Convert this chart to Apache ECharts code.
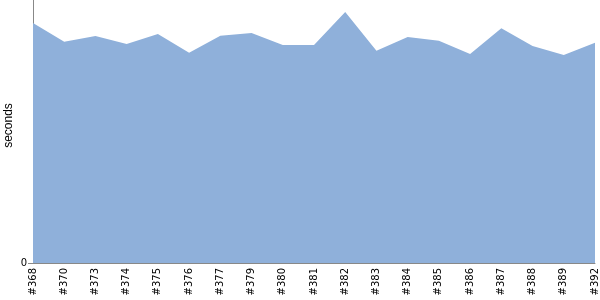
<!DOCTYPE html>
<html>
<head>
<meta charset="utf-8">
<script src="https://cdn.jsdelivr.net/npm/echarts@6/dist/echarts.min.js"></script>
<style>
  html, body { margin: 0; padding: 0; background: #fff; }
  #chart { width: 600px; height: 300px; }
</style>
</head>
<body>
<div id="chart"></div>
<script>
const builds = ['#368', '#370', '#373', '#374', '#375', '#376', '#377', '#379', '#380', '#381',
                '#382', '#383', '#384', '#385', '#386', '#387', '#388', '#389', '#392'];
const durations = [91.3, 84.1, 86.3, 83.3, 87.1, 79.9, 86.4, 87.5, 82.9, 82.9,
                   95.4, 80.7, 85.9, 84.5, 79.5, 89.3, 82.5, 79.1, 83.7];
const yTicks = [0];
const yMax = 100;

const chart = echarts.init(document.getElementById('chart'), null, { renderer: 'canvas' });
chart.setOption({
  animation: false,
  grid: { left: 33, right: 5, top: 0, bottom: 37, containLabel: false, outerBoundsMode: 'none' },
  xAxis: {
    type: 'category',
    data: builds,
    boundaryGap: false,
    axisLine: { show: true, lineStyle: { color: '#888888', width: 1 } },
    axisTick: { show: false },
    axisLabel: {
      interval: 0,
      rotate: 90,
      margin: 5,
      color: '#000',
      fontFamily: 'DejaVu Sans',
      fontSize: 10
    },
    splitLine: { show: false }
  },
  yAxis: {
    type: 'value',
    min: 0,
    max: yMax,
    interval: yMax,
    name: 'seconds',
    nameLocation: 'middle',
    nameGap: 18,
    nameMoveOverlap: false,
    nameTextStyle: { color: '#000', fontFamily: 'Liberation Sans', fontSize: 12, padding: [0, 0, 0, 12] },
    axisLine: { show: true, lineStyle: { color: '#888888', width: 1 } },
    axisTick: { show: true, length: 5, customValues: yTicks, lineStyle: { color: '#888888' } },
    axisLabel: {
      margin: 6,
      color: '#000',
      fontFamily: 'DejaVu Sans',
      fontSize: 10,
      customValues: yTicks
    },
    splitLine: { show: false }
  },
  series: [{
    type: 'line',
    data: durations,
    showSymbol: false,
    lineStyle: { width: 0 },
    areaStyle: { color: '#8fb0da', opacity: 1 }
  }]
});
</script>
</body>
</html>
